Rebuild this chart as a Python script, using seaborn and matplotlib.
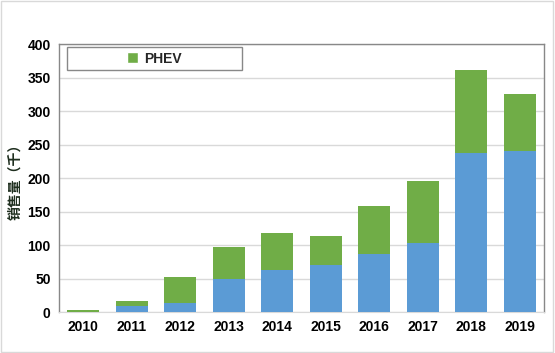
import pandas as pd
import seaborn as sns
import matplotlib.pyplot as plt
from matplotlib.patches import Patch, Rectangle

# Data (thousands of units)
years = ['2010', '2011', '2012', '2013', '2014', '2015', '2016', '2017', '2018', '2019']
bev = [0.3, 9.5, 13.5, 49, 63, 70, 87, 103, 238, 241]
phev = [2.2, 7.5, 38.5, 48, 55, 44, 72, 92, 123, 85]

BLUE = '#5B9BD5'
GREEN = '#70AD47'

df = pd.DataFrame({'year': years, 'BEV': bev, 'PHEV': phev})
df['total'] = df['BEV'] + df['PHEV']

sns.set_style('white')
plt.rcParams['font.family'] = ['Liberation Sans', 'DejaVu Sans']

fig = plt.figure(figsize=(5.55, 3.53), dpi=100)
ax = fig.add_axes([0.1063, 0.116, 0.8737, 0.759])

# stacked: total (green) behind, BEV (blue) in front
sns.barplot(data=df, x='year', y='total', color=GREEN, saturation=1, width=0.66,
            linewidth=0, edgecolor='none', ax=ax, zorder=3)
sns.barplot(data=df, x='year', y='BEV', color=BLUE, saturation=1, width=0.66,
            linewidth=0, edgecolor='none', ax=ax, zorder=4)

ax.set_xlim(-0.5, 9.5)
ax.set_ylim(0, 400)
ax.set_yticks(range(0, 401, 50))
ax.yaxis.grid(True, color='#D9D9D9', linewidth=1, zorder=0)
ax.set_axisbelow(True)
ax.tick_params(axis='both', length=0, labelsize=10, pad=6, labelcolor='black')
for lbl in ax.get_xticklabels() + ax.get_yticklabels():
    lbl.set_fontweight('bold')
ax.set_xlabel('')
ax.set_ylabel('销售量（千）', family=['Noto Sans CJK SC', 'DejaVu Sans'],
              fontsize=10, fontweight='bold', color='#1e2e1e', labelpad=4)

for side in ['left', 'top', 'right']:
    ax.spines[side].set_color('#888888')
    ax.spines[side].set_linewidth(1)
ax.spines['bottom'].set_color('#D9D9D9')

# legend box (only PHEV shown), centred text inside a fixed frame
ax.add_patch(Rectangle((0.0165, 0.903), 0.36, 0.086, transform=ax.transAxes,
                       fill=True, facecolor='white', edgecolor='#888888',
                       linewidth=1, zorder=5))
leg = ax.legend(handles=[Patch(facecolor=GREEN, label='PHEV')],
                loc='center', bbox_to_anchor=(0.1965, 0.946),
                frameon=False, handlelength=0.8, handleheight=0.8,
                handletextpad=0.4, borderaxespad=0,
                prop={'weight': 'bold', 'size': 10})
leg.set_zorder(6)

# light border around the whole figure
fig.patches.append(Rectangle((0.002, 0.003), 0.994, 0.994, transform=fig.transFigure,
                             fill=False, edgecolor='#D9D9D9', linewidth=1))

fig.savefig('out.png', dpi=100)
